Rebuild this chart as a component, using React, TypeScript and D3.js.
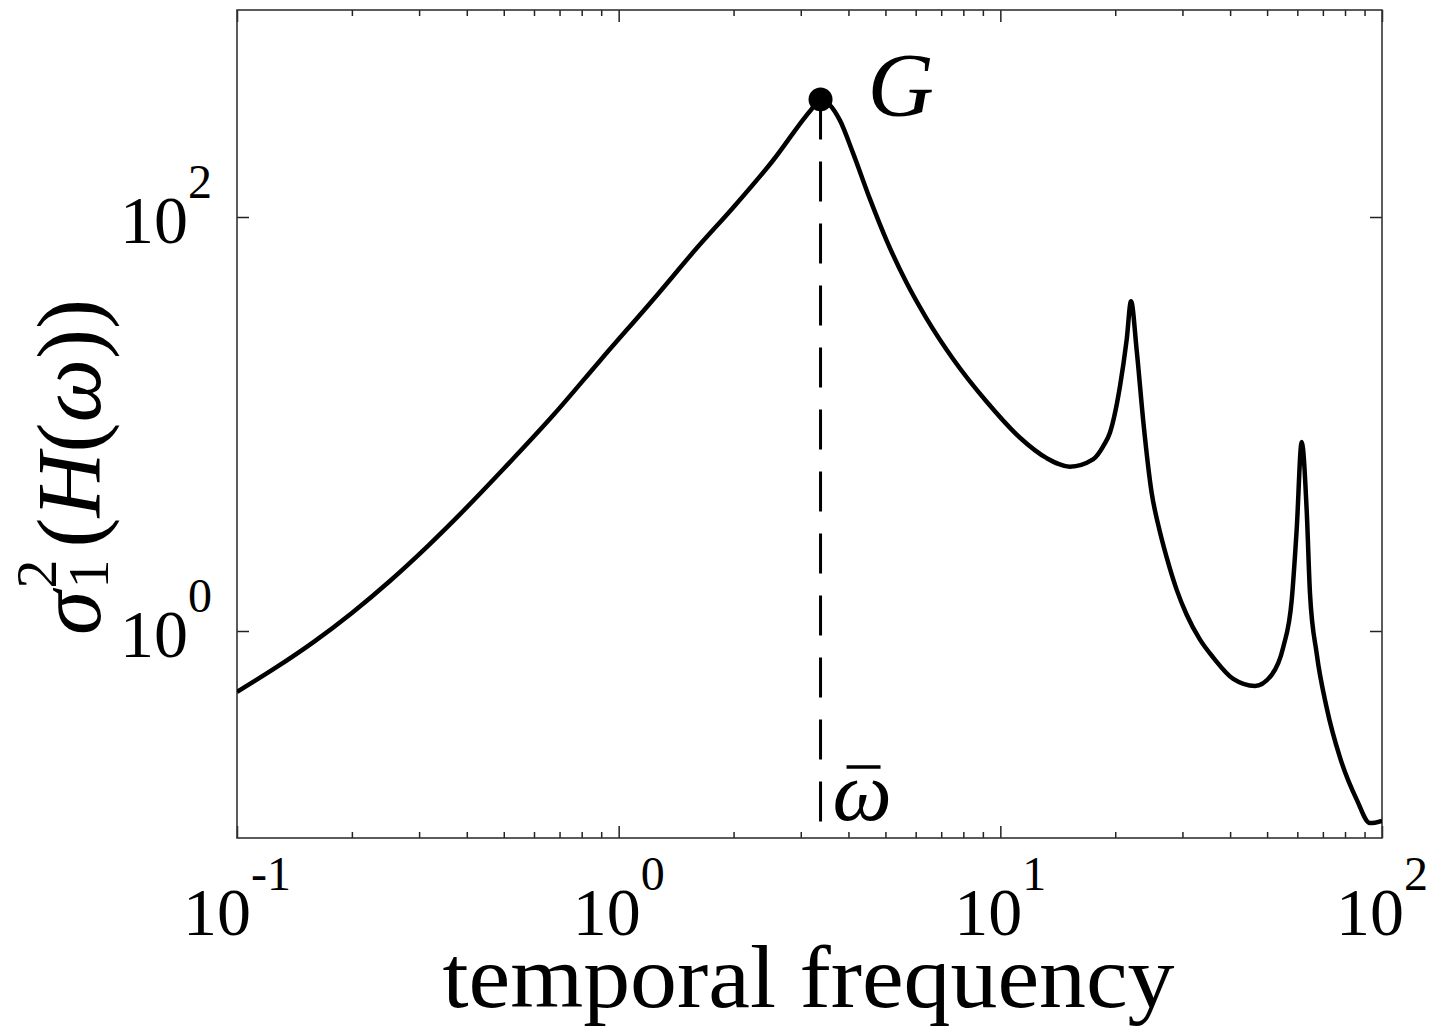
import React, { useEffect, useRef } from 'react';
import * as d3 from 'd3';

// frequency response (log-log)
const freq = [0.1, 0.126, 0.1586, 0.2, 0.252, 0.3166, 0.382, 0.504, 0.679, 0.897, 1.268, 1.594, 2.012, 2.534, 3.19, 3.38,
    3.8, 4.11, 4.555, 5.04, 5.68, 6.41, 7.52, 9.21, 11.26, 13.23, 15.22, 17.49, 18.61, 19.38, 20.58, 21.43, 22.0, 22.77,
    23.7, 24.93, 25.94, 27.29, 28.98, 30.78, 33.35, 36.14, 40.76, 46.48, 51.4, 55.13, 58.0, 59.77, 61.6, 63.5, 64.76,
    67.45, 71.6, 77.6, 85.85, 93.0, 100];
const gain = [0.508, 0.663, 0.884, 1.223, 1.75, 2.58, 3.63, 6.18, 11.2, 20.4, 42.5, 70, 113, 187, 329, 370,
    293, 204, 122, 76.7, 48.1, 32.3, 20.6, 12.8, 8.58, 6.84, 6.22, 6.74, 7.82, 9.1, 15.2, 25.5, 39.2, 22.6,
    10.2, 4.62, 3.24, 2.26, 1.58, 1.198, 0.908, 0.744, 0.587, 0.543, 0.614, 0.837, 1.41, 3.1, 8.19, 3.79, 1.52,
    0.775, 0.427, 0.245, 0.1533, 0.118, 0.121];

const peakFreq = 3.38;
const peakGain = 370;
const xDomain = [0.1, 100];
const yDomain = [0.1, 1000];
const xTickExps = [-1, 0, 1, 2];
const yTickExps = [0, 2];
const xLabel = 'temporal frequency';
const peakLabel = 'G';
const freqLabel = 'ω';

const W = 1434;
const H = 1028;
const FONT = '"Liberation Serif", "DejaVu Serif", serif';

function drawChart(node: SVGSVGElement) {
    const margin = { top: 10, right: 52, bottom: 190, left: 237 };
    const iw = W - margin.left - margin.right;
    const ih = H - margin.top - margin.bottom;

    const svg = d3.select(node);
    svg.selectAll('*').remove();

    const g = svg.append('g').attr('transform', 'translate(' + margin.left + ',' + margin.top + ')');

    const x = d3.scaleLog().domain(xDomain).range([0, iw]);
    const y = d3.scaleLog().domain(yDomain).range([ih, 0]);

    svg.append('defs')
        .append('clipPath')
        .attr('id', 'plotclip')
        .append('rect')
        .attr('width', iw)
        .attr('height', ih);

    // ticks (inward, on all four sides)
    const allX = x.ticks();
    const majorX = allX.filter((t) => Math.abs(Math.log10(t) - Math.round(Math.log10(t))) < 1e-9);
    const minorX = allX.filter((t) => majorX.indexOf(t) < 0);
    const yMajor = yTickExps.map((e) => Math.pow(10, e));

    const styleAxis = (sel) => {
        sel.select('.domain').remove();
        sel.selectAll('line').attr('stroke', '#222').attr('stroke-width', 1.5);
        sel.selectAll('text').remove();
    };

    g.append('g').attr('transform', 'translate(0,' + ih + ')')
        .call(d3.axisBottom(x).tickValues(majorX).tickSize(-12)).call(styleAxis);
    g.append('g').attr('transform', 'translate(0,' + ih + ')')
        .call(d3.axisBottom(x).tickValues(minorX).tickSize(-6)).call(styleAxis);
    g.append('g').call(d3.axisTop(x).tickValues(majorX).tickSize(-12)).call(styleAxis);
    g.append('g').call(d3.axisTop(x).tickValues(minorX).tickSize(-6)).call(styleAxis);
    g.append('g').call(d3.axisLeft(y).tickValues(yMajor).tickSize(-12)).call(styleAxis);
    g.append('g').attr('transform', 'translate(' + iw + ',0)')
        .call(d3.axisRight(y).tickValues(yMajor).tickSize(-12)).call(styleAxis);

    g.append('rect')
        .attr('width', iw)
        .attr('height', ih)
        .attr('fill', 'none')
        .attr('stroke', '#333')
        .attr('stroke-width', 1.6);

    // x tick labels 10^k
    xTickExps.forEach((e) => {
        const t = g.append('text')
            .attr('x', x(Math.pow(10, e)))
            .attr('y', ih + 97)
            .attr('text-anchor', 'middle')
            .attr('font-family', FONT)
            .attr('font-size', 68)
            .attr('fill', '#000');
        t.append('tspan').text('10');
        t.append('tspan').attr('font-size', 48).attr('dy', -45).text(e < 0 ? '-' + -e : String(e));
    });

    // y tick labels
    yTickExps.forEach((e) => {
        const t = g.append('text')
            .attr('x', -25)
            .attr('y', y(Math.pow(10, e)) + 26)
            .attr('text-anchor', 'end')
            .attr('font-family', FONT)
            .attr('font-size', 68)
            .attr('fill', '#000');
        t.append('tspan').text('10');
        t.append('tspan').attr('font-size', 48).attr('dy', -45).text(String(e));
    });

    // dashed marker at the peak frequency
    g.append('line')
        .attr('x1', x(peakFreq))
        .attr('x2', x(peakFreq))
        .attr('y1', y(peakGain))
        .attr('y2', ih)
        .attr('stroke', '#000')
        .attr('stroke-width', 3)
        .attr('stroke-dasharray', '40,22');

    // the response curve
    const pts = freq.map((f, i) => [f, gain[i]]);
    const line = d3.line()
        .x((d) => x(d[0]))
        .y((d) => y(d[1]))
        .curve(d3.curveMonotoneX);

    g.append('path')
        .datum(pts)
        .attr('clip-path', 'url(#plotclip)')
        .attr('d', line)
        .attr('fill', 'none')
        .attr('stroke', '#000')
        .attr('stroke-width', 4.5)
        .attr('stroke-linejoin', 'round');

    g.append('circle')
        .attr('cx', x(peakFreq))
        .attr('cy', y(peakGain))
        .attr('r', 12)
        .attr('fill', '#000');

    g.append('text')
        .attr('x', x(peakFreq) + 47)
        .attr('y', y(peakGain) + 17)
        .attr('font-family', FONT)
        .attr('font-style', 'italic')
        .attr('font-size', 92)
        .attr('fill', '#000')
        .text(peakLabel);

    // omega-bar label
    const wx = x(peakFreq) + 12;
    g.append('text')
        .attr('x', wx)
        .attr('y', ih - 18)
        .attr('font-family', FONT)
        .attr('font-style', 'italic')
        .attr('font-size', 84)
        .attr('fill', '#000')
        .text(freqLabel);
    g.append('line')
        .attr('x1', wx + 14)
        .attr('x2', wx + 48)
        .attr('y1', ih - 71)
        .attr('y2', ih - 71)
        .attr('stroke', '#000')
        .attr('stroke-width', 3.5);

    // x axis title
    g.append('text')
        .attr('x', iw / 2 - 1)
        .attr('y', ih + 169)
        .attr('text-anchor', 'middle')
        .attr('font-family', FONT)
        .attr('font-size', 88)
        .attr('textLength', 732)
        .attr('lengthAdjust', 'spacingAndGlyphs')
        .attr('fill', '#000')
        .text(xLabel);

    // y axis title: sigma_1^2 (H(omega))
    const yl = svg.append('text')
        .attr('transform', 'translate(100,467) rotate(-90)')
        .attr('text-anchor', 'middle')
        .attr('font-family', FONT)
        .attr('font-size', 90)
        .attr('fill', '#000');
    yl.append('tspan').attr('font-style', 'italic').text('σ');
    yl.append('tspan').attr('font-size', 58).attr('dy', 8).attr('dx', 2).text('1');
    yl.append('tspan').attr('font-size', 58).attr('dx', -29).attr('dy', -52).text('2');
    yl.append('tspan').attr('dy', 44).attr('dx', 12).text('(');
    yl.append('tspan').attr('font-style', 'italic').text('H');
    yl.append('tspan').text('(');
    yl.append('tspan').attr('font-style', 'italic').text('ω');
    yl.append('tspan').text('))');
}

export default function App() {
    const ref = useRef<SVGSVGElement>(null);

    useEffect(() => {
        if (ref.current) drawChart(ref.current);
    }, []);

    return (
        <svg
            ref={ref}
            width={W}
            height={H}
            style={{ position: 'absolute', left: 0, top: 0, background: '#fff', display: 'block' }}
        />
    );
}
